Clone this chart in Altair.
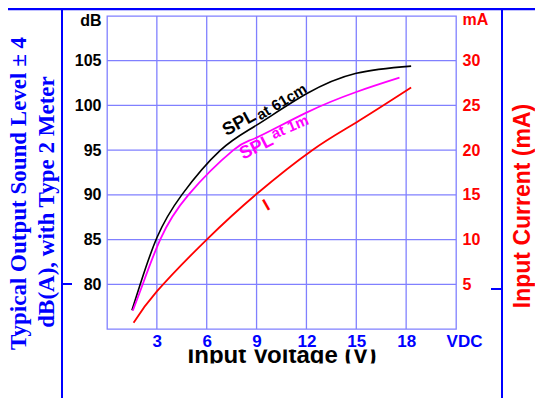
import altair as alt
import pandas as pd

# ---------------- data ----------------
V_61CM = [1.5, 2.0, 3.0, 4.5, 6.83, 9.0, 12.0, 15.0, 18.3]
DB_61CM = [77.1, 80.0, 85.2, 90.0, 95.0, 97.8, 101.3, 103.6, 104.4]

V_1M = [1.55, 2.15, 3.2, 4.9, 7.6, 9.0, 12.0, 15.0, 17.6]
DB_1M = [77.05, 80.0, 85.0, 90.0, 95.0, 96.4, 99.2, 101.5, 103.1]

V_I = [1.6, 3.0, 6.0, 9.0, 12.35, 15.0, 18.3]
MA_I = [0.7, 4.2, 10.0, 15.1, 20.0, 23.1, 27.0]

X_TICKS = [3, 6, 9, 12, 15, 18, 21]        # 21 is labelled "VDC"
DB_TICKS = [80, 85, 90, 95, 100, 105, 110]  # 110 is labelled "dB"
MA_TICKS = [5, 10, 15, 20, 25, 30, 35]      # 35 is labelled "mA"
X_GRID = [3, 6, 9, 12, 15, 18]
DB_GRID = [80, 85, 90, 95, 100, 105]

LABEL_TEXT = ["SPL", "at 61cm", "SPL", "at 1m"]
LABEL_V = [7.97, 10.5, 9.0, 11.0]
LABEL_DB = [98.0, 100.4, 95.3, 97.6]
I_TEXT = ["I"]
I_V = [9.6]
I_MA = [13.8]

LEFT_TITLE_1 = "Typical Output Sound Level \u00b1 4"
LEFT_TITLE_2 = "dB(A), with Type 2 Meter"
RIGHT_TITLE = "Input Current  (mA)"
BOTTOM_TITLE = "Input Voltage  (V)"

# ---------------- styles ----------------
FONT = "Liberation Sans"
SERIF = "Liberation Serif"
BLUE = "#0000ff"
GRID = "#8080ff"
MAGENTA = "#ff00ff"
RED = "#ff0000"

x_scale = alt.Scale(domain=[0, 21], nice=False, zero=False)
db_scale = alt.Scale(domain=[75, 110], nice=False, zero=False)
ma_scale = alt.Scale(domain=[0, 35], nice=False, zero=False)

X_AXIS = alt.Axis(
    values=X_TICKS, labelExpr="datum.value == 21 ? 'VDC' : datum.label",
    labelColor=BLUE, labelFont=FONT, labelFontSize=17, labelFontWeight="bold",
    labelPadding=4, labelOffset={"condition": {"test": "datum.value == 21", "value": 8}, "value": 0},
    ticks=False, domain=False, grid=False, title=None, zindex=1,
    labelFlush=False, labelOverlap=False,
)
DB_AXIS = alt.Axis(
    values=DB_TICKS, orient="left", labelExpr="datum.value == 110 ? 'dB' : datum.label",
    labelColor="black", labelFont=FONT, labelFontSize=16, labelFontWeight="bold",
    labelPadding=6, labelOffset={"condition": {"test": "datum.value == 110", "value": 4}, "value": 0},
    ticks=False, domain=False, grid=False, title=None, zindex=1,
    labelFlush=False, labelOverlap=False,
)
MA_AXIS = alt.Axis(
    values=MA_TICKS, orient="right", labelExpr="datum.value == 35 ? 'mA' : datum.label",
    labelColor=RED, labelFont=FONT, labelFontSize=16, labelFontWeight="bold",
    labelPadding=6, labelOffset={"condition": {"test": "datum.value == 35", "value": 3}, "value": 0},
    ticks=False, domain=False, grid=False, title=None, zindex=1,
    labelFlush=False, labelOverlap=False,
)

one = pd.DataFrame({"k": [0]})


def note(text, x, y, size, color, font=FONT, angle=0, align="center", baseline="middle"):
    return alt.Chart(one).mark_text(
        text=text, font=font, fontSize=size, fontWeight="bold", color=color,
        angle=angle, align=align, baseline=baseline,
    ).encode(x=alt.value(x), y=alt.value(y))


def vrule(x, y1, y2, width=2):
    return alt.Chart(one).mark_rule(color=BLUE, strokeWidth=width).encode(
        x=alt.value(x), y=alt.value(y1), y2=alt.value(y2))


def hrule(y, x1, x2, width=2):
    return alt.Chart(one).mark_rule(color=BLUE, strokeWidth=width).encode(
        y=alt.value(y), x=alt.value(x1), x2=alt.value(x2))


X = lambda: alt.X("V:Q", scale=x_scale, axis=X_AXIS)
YDB = lambda: alt.Y("dB:Q", scale=db_scale, axis=DB_AXIS)
YMA = lambda: alt.Y("mA:Q", scale=ma_scale, axis=MA_AXIS)

vgrid = alt.Chart(pd.DataFrame({"V": X_GRID})).mark_rule(color=GRID, strokeWidth=1.3).encode(x=X())
hgrid = alt.Chart(pd.DataFrame({"dB": DB_GRID})).mark_rule(color=GRID, strokeWidth=1.3).encode(y=YDB())

black = alt.Chart(pd.DataFrame({"V": V_61CM, "dB": DB_61CM})).mark_line(
    color="black", strokeWidth=1.6, interpolate="natural").encode(x=X(), y=YDB())
magenta = alt.Chart(pd.DataFrame({"V": V_1M, "dB": DB_1M})).mark_line(
    color=MAGENTA, strokeWidth=1.8, interpolate="natural").encode(x=X(), y=YDB())

lab_df = pd.DataFrame({"t": LABEL_TEXT, "V": LABEL_V, "dB": LABEL_DB})
label_styles = [(18, 331, "black"), (15, 329, "black"), (18, 333, MAGENTA), (15, 337, MAGENTA)]
label_layers = []
for i, (size, ang, col) in enumerate(label_styles):
    label_layers.append(
        alt.Chart(lab_df.iloc[[i]]).mark_text(
            font=FONT, fontSize=size, fontWeight="bold", color=col, angle=ang,
            align="center", baseline="middle",
        ).encode(x=X(), y=YDB(), text="t:N")
    )

# bottom title, clipped top and bottom like in the reference
bottom_title = note(BOTTOM_TITLE, 175, 347, 24, "black", baseline="alphabetic")
clip_top = alt.Chart(one).mark_rect(color="white").encode(
    x=alt.value(50), x2=alt.value(300), y=alt.value(315), y2=alt.value(333.5))
clip_bot = alt.Chart(one).mark_rect(color="white").encode(
    x=alt.value(50), x2=alt.value(300), y=alt.value(347.5), y2=alt.value(364))

frame = [
    vrule(-45, -8, 382),
    vrule(395, -8, 382),
    hrule(-7, -99, 428, 2.5),
    hrule(268, -45, -35),
    hrule(273, 384, 395),
]

titles = [
    note(LEFT_TITLE_1, -88, 177.5, 23, BLUE, font=SERIF, angle=270),
    note(LEFT_TITLE_2, -60, 186, 23, BLUE, font=SERIF, angle=270),
    note(RIGHT_TITLE, 416, 190, 23, RED, angle=270),
]

left = alt.layer(
    vgrid, hgrid, black, magenta, *label_layers,
    bottom_title, clip_top, clip_bot, *frame, *titles,
)

red = alt.Chart(pd.DataFrame({"V": V_I, "mA": MA_I})).mark_line(
    color=RED, strokeWidth=1.8, interpolate="natural").encode(x=X(), y=YMA())
red_lab = alt.Chart(pd.DataFrame({"t": I_TEXT, "V": I_V, "mA": I_MA})).mark_text(
    font=FONT, fontSize=17, fontWeight="bold", color=RED, angle=330,
    align="center", baseline="middle").encode(x=X(), y=YMA(), text="t:N")

right = alt.layer(red, red_lab)

chart = alt.layer(left, right).resolve_scale(y="independent").properties(
    width=349, height=313,
    padding={"left": 99, "top": 8, "right": 79, "bottom": 69},
    autosize=alt.AutoSizeParams(type="none"),
    background="white",
).configure_view(stroke=GRID, strokeWidth=1.3)

chart.save("out.html", embed_options={"renderer": "svg", "actions": False})
